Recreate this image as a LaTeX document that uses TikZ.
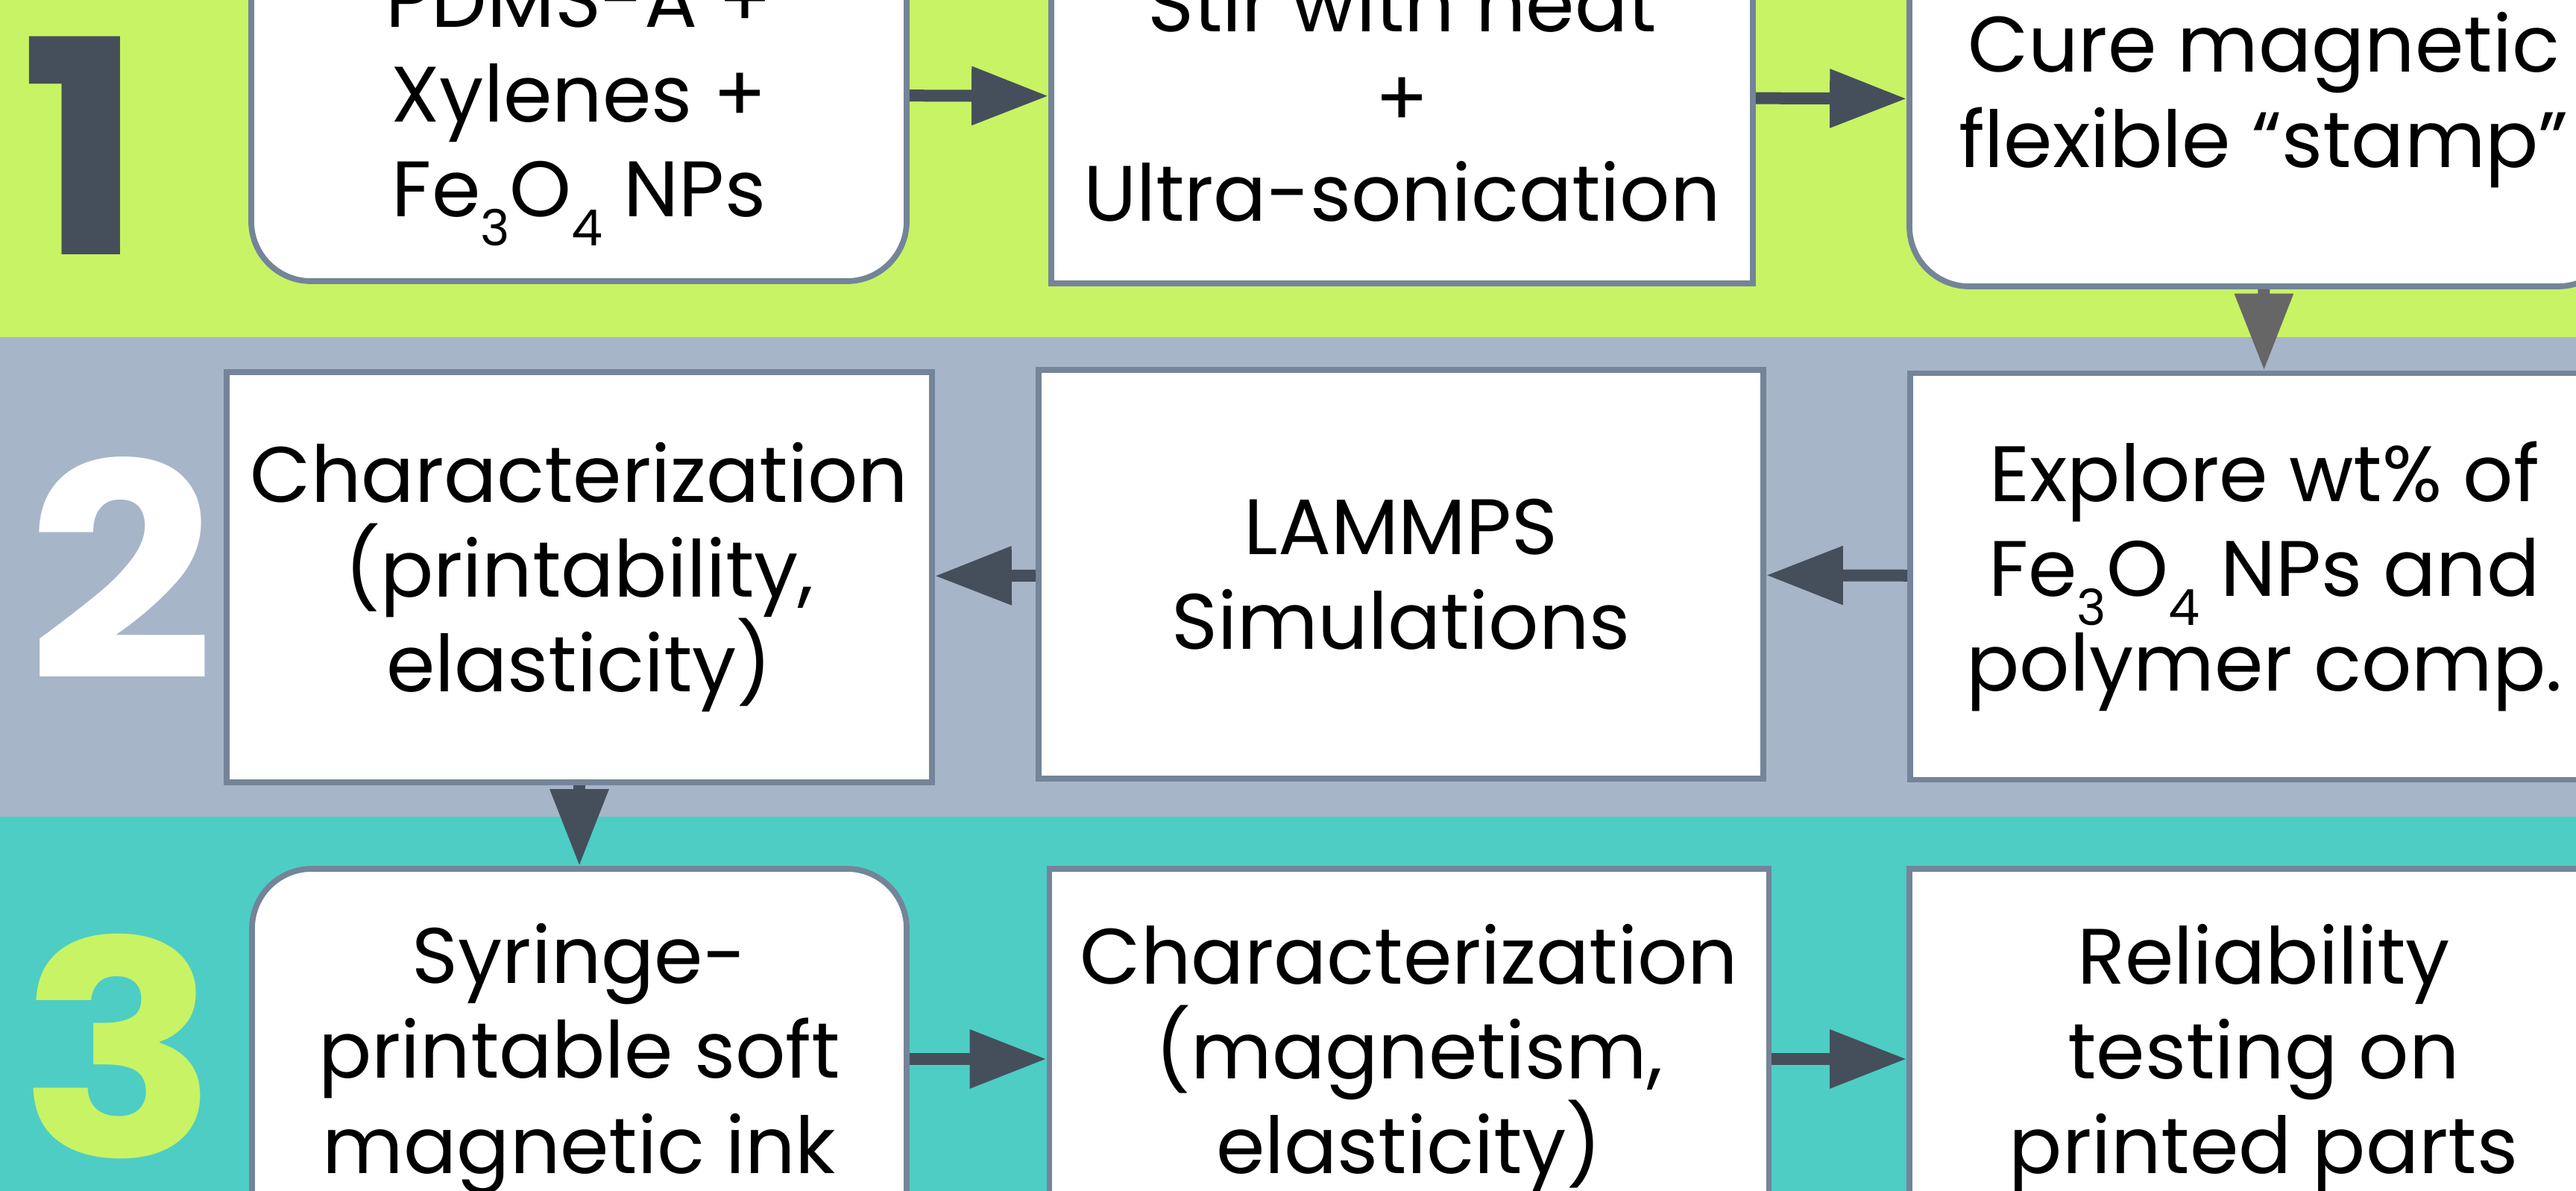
\documentclass[tikz,border=0pt]{standalone}
\usepackage{fontspec}
\setmainfont{Poppins}
\usetikzlibrary{arrows.meta}
\definecolor{limeband}{HTML}{C8F364}
\definecolor{slateband}{HTML}{A7B5C8}
\definecolor{tealband}{HTML}{4ECDC4}
\definecolor{boxline}{HTML}{748499}
\definecolor{arrowdark}{HTML}{454F5B}
\definecolor{arrowgray}{HTML}{666666}
% subscripts sit low and take no room in the line
\newcommand{\lowsub}[1]{\raisebox{-11pt}[0pt][0pt]{\fontsize{19}{19}\selectfont #1}}
\newcommand{\feo}{Fe\lowsub{3}O\lowsub{4}}
\newcommand{\numtext}[1]{\scalebox{1.1}[1]{#1}}
\begin{document}
\begin{tikzpicture}[x=1cm,y=1cm,
    box/.style={draw=boxline,line width=2.2pt,fill=white,align=center,inner sep=0pt,
        font=\fontsize{30}{36.2}\selectfont,execute at begin node={\rule{0pt}{33pt}}},
    rbox/.style={box,rounded corners=0.8cm},
    flow/.style={-{Triangle[length=1.03cm,width=0.75cm]},line width=0.16cm,draw=arrowdark},
    stepnum/.style={inner sep=0pt,font=\fontsize{114}{114}\bfseries\selectfont}]
    \useasboundingbox (0,0) rectangle (34.55,-15.97);
    \clip (0,0) rectangle (34.55,-15.97);
    % the three stage bands
    \fill[limeband] (0,0) rectangle (34.55,-4.52);
    \fill[slateband] (0,-4.52) rectangle (34.55,-10.95);
    \fill[tealband] (0,-10.95) rectangle (34.55,-15.97);
    \node[stepnum,text=arrowdark] (n1) at (1.1,-1.95) {\numtext{1}};
    \node[stepnum,text=white] (n2) at (1.62,-7.62) {\numtext{2}};
    \node[stepnum,text=limeband] (n3) at (1.6,-14.03) {\numtext{3}};
    % stage 1
    \node[rbox,minimum width=8.79cm,minimum height=5cm] (mix) at (7.765,-1.27)
        {PDMS-A +\\Xylenes +\\\feo{} NPs};
    \node[box,minimum width=9.41cm,minimum height=5cm] (stir) at (18.805,-1.30)
        {Stir with heat\\+\\Ultra-sonication};
    \node[rbox,minimum width=9.5cm,minimum height=5cm] (cure) at (30.36,-1.34)
        {Cure magnetic\\flexible “stamp”};
    % stage 2
    \node[box,minimum width=9.5cm,minimum height=5.45cm] (explore) at (30.37,-7.73)
        {Explore wt\% of\\\feo{} NPs and\\polymer comp.};
    \node[box,minimum width=9.72cm,minimum height=5.48cm] (lammps) at (18.79,-7.70)
        {LAMMPS\\Simulations};
    \node[box,minimum width=9.46cm,minimum height=5.5cm] (charp) at (7.77,-7.74)
        {Characterization\\(printability,\\elasticity)};
    % stage 3
    \node[rbox,minimum width=8.78cm,minimum height=5.1cm] (ink) at (7.77,-14.2)
        {Syringe-\\printable soft\\magnetic ink};
    \node[box,minimum width=9.65cm,minimum height=5.1cm] (charm) at (18.9,-14.2)
        {Characterization\\(magnetism,\\elasticity)};
    \node[box,minimum width=9.5cm,minimum height=5.1cm] (rel) at (30.36,-14.2)
        {Reliability\\testing on\\printed parts};
    % connectors
    \draw[flow] (mix) -- (stir);
    \draw[flow] (stir) -- (cure);
    \draw[flow,draw=arrowgray] (cure) -- (explore);
    \draw[flow] (explore) -- (lammps);
    \draw[flow] (lammps) -- (charp);
    \draw[flow] (charp) -- (ink);
    \draw[flow] (ink) -- (charm);
    \draw[flow] (charm) -- (rel);
\end{tikzpicture}
\end{document}
